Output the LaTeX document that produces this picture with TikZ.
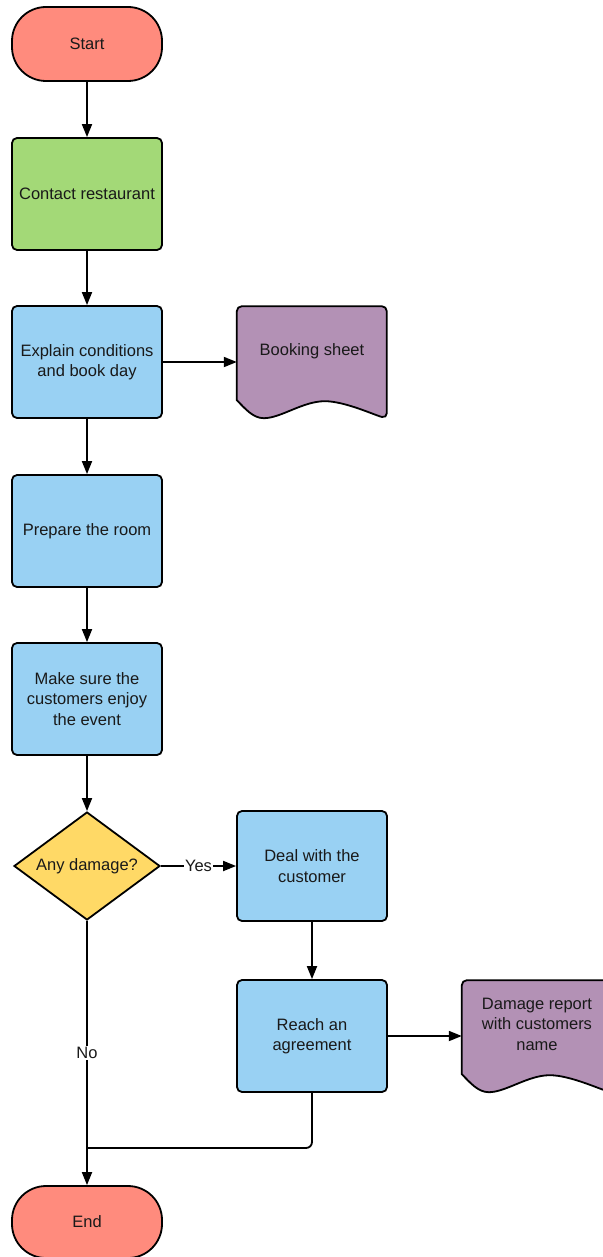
\documentclass[tikz,border=0pt]{standalone}
\usepackage{fontspec}
\setmainfont{Liberation Sans}
\usepackage{tikz}
\usetikzlibrary{arrows.meta,shapes.geometric}

\definecolor{startred}{RGB}{255,139,125}
\definecolor{stepgreen}{RGB}{163,217,119}
\definecolor{stepblue}{RGB}{153,209,243}
\definecolor{docpurple}{RGB}{179,145,181}
\definecolor{askyellow}{RGB}{255,217,102}

% document symbol with a wavy bottom, drawn round an empty node
\newcommand\docshape[2]{%
 \filldraw[fill=#2, line width=1.8pt, rounded corners=5pt, shift={(#1.south west)}]
  (0,18) -- (0,112) -- (150,112) -- (150,0) [sharp corners]
  .. controls (138,3) and (108,17) .. (88,17)
  .. controls (66,17) and (44,0) .. (27,0)
  .. controls (16,0) and (8,10) .. (0,18) -- cycle;}

\tikzset{
 every node/.style={font=\fontsize{16.5}{20.5}\selectfont, text=black!90},
 terminal/.style={draw, fill=startred, line width=1.8pt, rounded corners=34pt,
  minimum width=150pt, minimum height=#1},
 process/.style={draw, fill=#1, line width=1.8pt, rounded corners=5pt, align=center,
  minimum width=150pt, minimum height=112pt},
 ask/.style={diamond, draw, fill=askyellow, line width=1.8pt, aspect=1.35,
  inner sep=0pt, minimum width=146pt, minimum height=108pt},
 docspace/.style={inner sep=0pt, minimum width=150pt, minimum height=112pt},
 flow/.style={line width=1.8pt, -{Triangle[length=13pt,width=10pt]}},
 tag/.style={fill=white, inner sep=1pt}
}

\begin{document}
\begin{tikzpicture}[x=1pt,y=1pt]
 \def\colA{87}  % main column
 \def\colB{312} % second column
 \def\colC{537} % documents on the far right
 \useasboundingbox (0,0) rectangle (602,-1257);
 \node[terminal=74pt] (start) at (\colA,-44) {Start};
 \node[process=stepgreen] (contact) at (\colA,-194) {Contact restaurant};
 \node[process=stepblue] (explain) at (\colA,-362) {Explain conditions\\and book day};
 \node[docspace] (booking) at (\colB,-362) {};
 \docshape{booking}{docpurple}
 \node (bookingtxt) at ([yshift=11pt]booking.center) {Booking sheet};
 \node[process=stepblue] (prepare) at (\colA,-531) {Prepare the room};
 \node[process=stepblue] (enjoy) at (\colA,-699) {Make sure the\\customers enjoy\\the event};
 \node[ask] (damage) at (\colA,-866) {Any damage?};
 \node[process=stepblue, minimum height=110pt] (deal) at (\colB,-866) {Deal with the\\customer};
 \node[process=stepblue] (agree) at (\colB,-1036) {Reach an\\agreement};
 \node[docspace] (report) at (\colC,-1036) {};
 \docshape{report}{docpurple}
 \node[align=center] (reporttxt) at ([yshift=12pt]report.center) {Damage report\\with customers\\name};
 \node[terminal=72pt] (end) at (\colA,-1222) {End};
 \coordinate (join) at (\colA,-1148);
% connectors
 \draw[flow] (start) -- (contact);
 \draw[flow] (contact) -- (explain);
 \draw[flow] (explain) -- (booking);
 \draw[flow] (explain) -- (prepare);
 \draw[flow] (prepare) -- (enjoy);
 \draw[flow] (enjoy) -- (damage);
 \draw[flow] (damage) -- node[tag] {Yes} (deal);
 \draw[flow] (deal) -- (agree);
 \draw[flow] (agree) -- (report);
 \draw[flow] (damage) -- node[tag] {No} (end);
 \draw[line width=1.8pt, rounded corners=6pt] (agree.south) |- (join);
\end{tikzpicture}
\end{document}
